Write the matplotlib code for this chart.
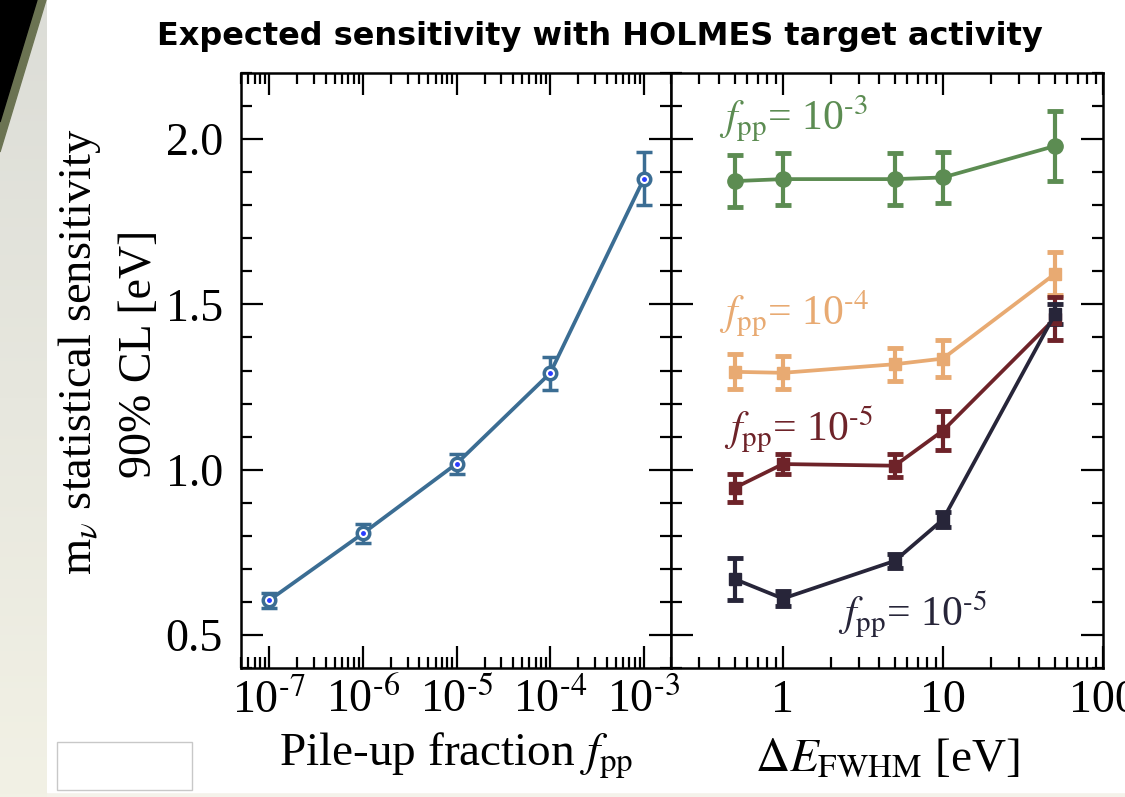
import numpy as np
import matplotlib
matplotlib.use('Agg')
import matplotlib.pyplot as plt
from matplotlib.patches import Rectangle, Polygon
from matplotlib.ticker import LogLocator, MultipleLocator, FixedLocator, FixedFormatter, FuncFormatter

plt.rcParams['font.family'] = ['Liberation Serif', 'DejaVu Serif']
plt.rcParams['mathtext.fontset'] = 'stix'

# pile-up scan (left panel)
fpp = [1e-7, 1e-6, 1e-5, 1e-4, 1e-3]
sens_fpp = [0.605, 0.807, 1.018, 1.292, 1.880]
err_fpp = [0.022, 0.030, 0.030, 0.050, 0.080]

# energy resolution scan (right panel)
fwhm = [0.5, 1, 5, 10, 50]
sens_e3 = [1.873, 1.879, 1.879, 1.884, 1.979]
err_e3 = [0.078, 0.078, 0.078, 0.078, 0.105]
sens_e4 = [1.296, 1.293, 1.319, 1.336, 1.592]
err_e4 = [0.053, 0.050, 0.050, 0.055, 0.065]
sens_e5 = [0.945, 1.017, 1.012, 1.118, 1.457]
err_e5 = [0.043, 0.030, 0.035, 0.058, 0.065]
sens_e5b = [0.669, 0.610, 0.724, 0.849, 1.470]
err_e5b = [0.063, 0.022, 0.022, 0.022, 0.030]


def pow10(v, pos=None):
    # short hyphen in the exponent instead of a minus sign
    e = int(round(np.log10(v)))
    return r'10$^{\text{-}%d}$' % -e if e < 0 else r'10$^{%d}$' % e


W, H = 1125, 797
fig = plt.figure(figsize=(W / 100, H / 100), dpi=100)
fig.patch.set_facecolor('#f4f2ea')

# white slide panel and the little box at the bottom left
fig.patches.append(Rectangle((47 / W, 5 / H), 1 - 47 / W, 1 - 5 / H,
                             transform=fig.transFigure, color='white', zorder=-10))
fig.patches.append(Rectangle((57 / W, 7 / H), 135 / W, 48 / H, transform=fig.transFigure,
                             facecolor='white', edgecolor='#c8c8c8', lw=1, zorder=-9))

# slide decoration on the left
bg = fig.add_axes([0, 0, 47 / W, 1])
grad = np.linspace(0, 1, 256).reshape(-1, 1)
bg.imshow(grad, extent=[0, 47, H, 0], aspect='auto',
          cmap=matplotlib.colors.LinearSegmentedColormap.from_list('g', ['#dcddd7', '#f2f1e5']))
bg.add_patch(Polygon([[0, 0], [46, 0], [0, 152]], closed=True, color='#6b7352'))
bg.add_patch(Polygon([[0, 0], [37, 0], [0, 122]], closed=True, color='black'))
bg.set_xlim(0, 47)
bg.set_ylim(H, 0)
bg.axis('off')

fig.text(600 / W, 1 - 36 / H, 'Expected sensitivity with HOLMES target activity',
         ha='center', va='center', fontsize=23, fontweight='bold', family='DejaVu Sans')

ax1 = fig.add_axes([241 / W, 1 - 668 / H, 430 / W, 595 / H])
ax2 = fig.add_axes([671 / W, 1 - 668 / H, 432 / W, 595 / H], sharey=ax1)

for ax in (ax1, ax2):
    ax.set_xscale('log')
    ax.set_ylim(0.4, 2.2)
    ax.yaxis.set_major_locator(MultipleLocator(0.5))
    ax.yaxis.set_minor_locator(MultipleLocator(0.1))
    ax.xaxis.set_minor_locator(LogLocator(base=10, subs=np.arange(2, 10), numticks=20))
    ax.tick_params(which='both', direction='in', top=True, right=True, width=1.6,
                   labelsize=33, colors='black')
    ax.tick_params(which='major', length=16)
    ax.tick_params(which='minor', length=8)
    ax.tick_params(axis='x', which='major', pad=8)
    ax.tick_params(axis='y', which='major', pad=13)
    for s in ax.spines.values():
        s.set_linewidth(1.8)

blue = '#3b6d93'
ax1.errorbar(fpp, sens_fpp, yerr=err_fpp, color=blue, lw=2.7, elinewidth=2.5,
             capsize=6, capthick=3, marker='o', ms=9, mfc='white', mec=blue, mew=2.5)
ax1.plot(fpp, sens_fpp, 'o', color='#2a3cff', ms=2.5, zorder=5)
ax1.set_xlim(5e-8, 1.95e-3)
ax1.xaxis.set_major_locator(LogLocator(base=10, numticks=10))
ax1.xaxis.set_major_formatter(FuncFormatter(pow10))
ax1.set_yticks([0.5, 1.0, 1.5, 2.0])
ax1.set_yticklabels(['0.5', '1.0', '1.5', '2.0'])
ax1.set_xlabel(r'Pile-up fraction $f_{\mathrm{pp}}$', fontsize=34, labelpad=6)

series = [
    (sens_e3, err_e3, '#5c8c52', 'o', 11),
    (sens_e4, err_e4, '#e8aa72', 's', 9),
    (sens_e5, err_e5, '#6e2329', 's', 9),
    (sens_e5b, err_e5b, '#272539', 's', 9),
]
for vals, errs, col, mk, ms in series:
    ax2.errorbar(fwhm, vals, yerr=errs, color=col, lw=2.7, elinewidth=3,
                 capsize=6, capthick=3.5, marker=mk, ms=ms)
ax2.set_xlim(0.2, 100)
ax2.xaxis.set_major_locator(FixedLocator([1, 10, 100]))
ax2.xaxis.set_major_formatter(FixedFormatter(['1', '10', '100']))
ax2.tick_params(axis='y', labelleft=False)
ax2.set_xlabel(r'$\mathit{\Delta E}_{\mathrm{FWHM}}$ [eV]', fontsize=34, labelpad=12)

lab = r'$f_{\mathrm{pp}}$= 10$^{\text{-}%d}$'
ax2.text(0.4, 2.06, lab % 3, color='#5c8c52', fontsize=30, va='center')
ax2.text(0.4, 1.47, lab % 4, color='#e8aa72', fontsize=30, va='center')
ax2.text(0.43, 1.125, lab % 5, color='#6e2329', fontsize=30, va='center')
ax2.text(2.2, 0.565, lab % 5, color='#272539', fontsize=30, va='center')

fig.text(80 / W, 1 - 352 / H, r'm$_{\nu}$ statistical sensitivity', rotation=90,
         ha='center', va='center', fontsize=33.5)
fig.text(140 / W, 1 - 354 / H, '90% CL [eV]', rotation=90,
         ha='center', va='center', fontsize=33)

fig.savefig('out.png', dpi=100)
